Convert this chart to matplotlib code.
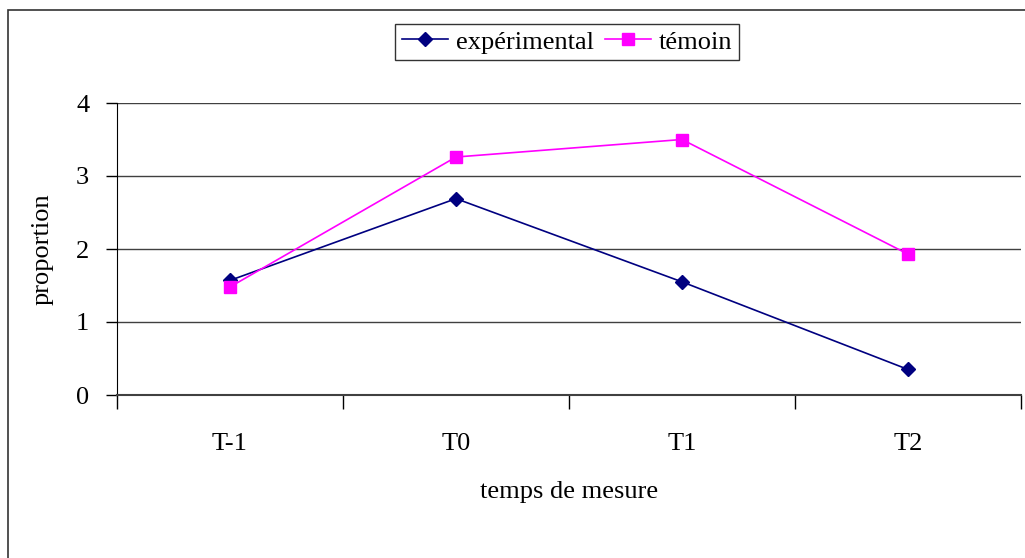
import matplotlib
matplotlib.use("Agg")
import matplotlib.pyplot as plt
from matplotlib.patches import Rectangle

# mesures par temps
temps = ["T-1", "T0", "T1", "T2"]
experimental = [1.57, 2.69, 1.55, 0.35]
temoin = [1.48, 3.26, 3.50, 1.93]

W, H = 1025, 558
FS = 19
plt.rcParams["font.family"] = ["Liberation Serif", "DejaVu Serif"]

fig = plt.figure(figsize=(W / 100, H / 100), dpi=100)

# cadre du graphique
fig.patches.append(Rectangle((8 / W, 0 - 0.1), 1.2, (1 - 10 / H) + 0.1, transform=fig.transFigure,
                             fill=False, edgecolor="#333333", linewidth=1.2))

ax = fig.add_axes([117 / W, 1 - 395 / H, (1021 - 117) / W, (395 - 103) / H])

x = list(range(1, len(temps) + 1))
ax.plot(x, experimental, color="#000080", marker="D", markersize=7, linewidth=1.2, label="expérimental")
ax.plot(x, temoin, color="#FF00FF", marker="s", markersize=8, linewidth=1.2, label="témoin")

ax.set_xlim(0.5, len(temps) + 0.5)
ax.set_ylim(0, 4)
ax.set_yticks([0, 1, 2, 3, 4])
ax.yaxis.grid(True, color="#404040", linewidth=1)
ax.set_axisbelow(True)

# graduations entre catégories, étiquettes au centre
ax.set_xticks([i + 0.5 for i in range(len(temps) + 1)])
ax.set_xticklabels([])
ax.set_xticks(x, minor=True)
ax.set_xticklabels(temps, minor=True)
ax.tick_params(axis="x", which="major", length=10, width=1, direction="out")
ax.tick_params(axis="x", which="minor", length=0, pad=27, labelsize=FS)
ax.tick_params(axis="y", length=8, width=1, direction="out", labelsize=FS, pad=12)

for side in ["top", "right"]:
    ax.spines[side].set_visible(False)
ax.spines["left"].set_color("black")
ax.spines["bottom"].set_color("#404040")
ax.spines["bottom"].set_linewidth(1.5)

ax.set_ylabel("proportion", fontsize=FS, labelpad=16)
ax.set_xlabel("temps de mesure", fontsize=FS, labelpad=19)

leg = fig.legend(loc="center", bbox_to_anchor=(567 / W, 1 - 42 / H), ncol=2, fontsize=FS,
                 frameon=True, fancybox=False, edgecolor="black", handlelength=1.75,
                 handletextpad=0.3, columnspacing=0.4, borderpad=0.25, borderaxespad=0)
leg.get_frame().set_linewidth(1)

fig.savefig("out.png", dpi=100)
